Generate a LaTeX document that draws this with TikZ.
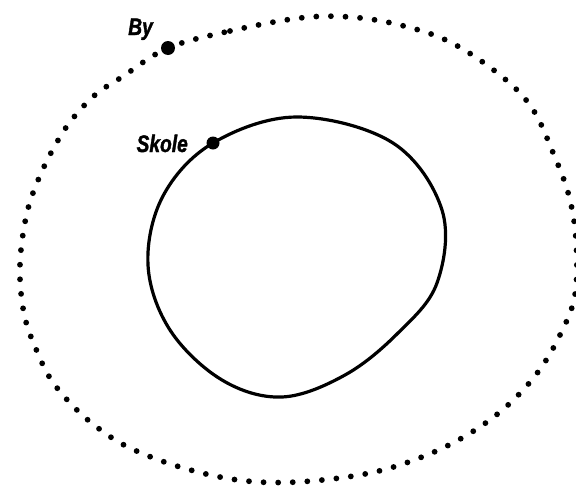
\documentclass[tikz,border=0pt]{standalone}
\usepackage{fontspec}
\newfontfamily\labelfont{Liberation Sans}[FakeStretch=0.8, FakeBold=1.5]
\usetikzlibrary{calc}

\begin{document}
\begin{tikzpicture}[x=1pt, y=-1pt]
        \useasboundingbox (0,0) rectangle (576,485);
        % points
        \coordinate(By) at (168,48);
        \coordinate(Skole) at (213,143);
        % town (dotted)
        \path[draw, line width=5.8pt, line cap=round, dash pattern=on 0pt off 14.6pt] plot[smooth cycle, tension=0.6] coordinates {(By) (230,31) (300,18) (350,17) (400,25) (450,42) (500,75) (532,108) (554,155) (569,196) (576,240) (575,295) (560,335) (538,372) (508,405) (472,432) (427,455) (370,473) (297,482) (238,480) (180,467) (130,448) (98,428) (72,405) (50,378) (36,349) (26,322) (21,293) (20,264) (23,234) (29,205) (39,178) (52,151) (70,122) (95,95) (122,77)};
        % school (solid)
        \path[draw, line width=3.2pt] plot[smooth cycle, tension=0.6] coordinates {(Skole) (297,117) (393,143) (442,210) (437,283) (398,333) (345,375) (282,397) (222,380) (170,330) (148,265) (163,196)};
        % labels
        \node[fill, circle, inner sep=0pt, minimum size=14pt] (byDot) at (By) {};
        \node[fill, circle, inner sep=0pt, minimum size=13pt] (skoleDot) at (Skole) {};
        \node[anchor=base east, inner sep=0pt, font=\labelfont\bfseries\itshape\fontsize{24}{28}\selectfont] (byLabel) at (153,35) {By};
        \node[anchor=base east, inner sep=0pt, font=\labelfont\bfseries\itshape\fontsize{24}{28}\selectfont] (skoleLabel) at (188,152) {Skole};
    \end{tikzpicture}
\end{document}
